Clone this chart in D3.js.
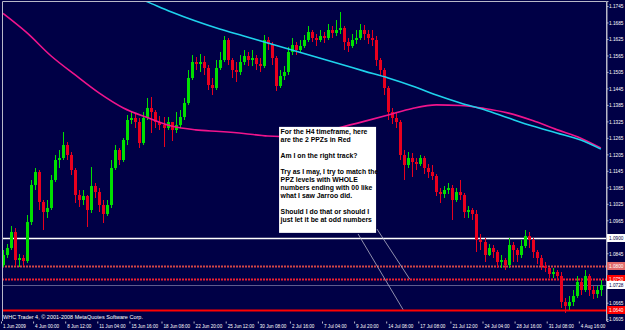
<!DOCTYPE html>
<html>
<head>
<meta charset="utf-8">
<script src="https://cdn.jsdelivr.net/npm/d3@7"></script>
<style>
  body { margin: 0; background: #000046; overflow: hidden; }
  svg { display: block; }
  text { font-family: "Liberation Sans", Arial, sans-serif; }
</style>
</head>
<body>
<div id="chart"></div>
<script>
// H4 bars, 1 Jun 2009 .. 5 Aug 2009
const firstOpen = 1.0802;
const closes = [
  1.0839,1.0864,1.0922,1.0821,1.0828,1.0817,1.0959,1.1094,1.1141,1.1032,
  1.0995,1.1010,1.1112,1.1185,1.1192,1.1239,1.1203,1.1148,1.1057,1.1039,
  1.1054,1.1003,1.1090,1.1068,1.1021,1.0988,1.1021,1.1155,1.1221,1.1185,
  1.1257,1.1330,1.1337,1.1323,1.1246,1.1337,1.1374,1.1359,1.1323,1.1312,
  1.1301,1.1323,1.1294,1.1312,1.1341,1.1392,1.1483,1.1541,1.1534,1.1541,
  1.1519,1.1458,1.1447,1.1519,1.1549,1.1621,1.1549,1.1512,1.1505,1.1541,
  1.1563,1.1549,1.1556,1.1534,1.1527,1.1621,1.1607,1.1556,1.1454,1.1490,
  1.1505,1.1578,1.1603,1.1585,1.1600,1.1621,1.1651,1.1629,1.1621,1.1636,
  1.1629,1.1658,1.1647,1.1658,1.1665,1.1614,1.1600,1.1621,1.1629,1.1658,
  1.1643,1.1629,1.1621,1.1549,1.1512,1.1447,1.1359,1.1337,1.1323,1.1203,
  1.1166,1.1192,1.1177,1.1170,1.1192,1.1155,1.1141,1.1126,1.1068,1.1061,
  1.1075,1.1083,1.1039,1.1068,1.1057,1.0995,1.1003,1.0988,1.0893,1.0886,
  1.0839,1.0864,1.0850,1.0813,1.0821,1.0802,1.0875,1.0857,1.0839,1.0872,
  1.0908,1.0893,1.0850,1.0828,1.0799,1.0791,1.0770,1.0777,1.0762,1.0668,
  1.0653,1.0668,1.0690,1.0741,1.0711,1.0762,1.0711,1.0697,1.0711,1.0728
];
const highs = [
  1.0857,1.0879,1.0944,1.0937,1.0842,1.0839,1.0984,1.1112,1.1155,1.1148,
  1.1039,1.1039,1.1130,1.1203,1.1221,1.1287,1.1250,1.1214,1.1155,1.1075,
  1.1075,1.1057,1.1159,1.1101,1.1083,1.1039,1.1039,1.1185,1.1239,1.1228,
  1.1265,1.1348,1.1359,1.1356,1.1337,1.1359,1.1410,1.1414,1.1367,1.1345,
  1.1341,1.1341,1.1323,1.1359,1.1367,1.1410,1.1512,1.1567,1.1560,1.1570,
  1.1563,1.1530,1.1483,1.1549,1.1578,1.1636,1.1629,1.1556,1.1541,1.1567,
  1.1585,1.1578,1.1585,1.1567,1.1556,1.1640,1.1632,1.1614,1.1563,1.1512,
  1.1527,1.1596,1.1629,1.1614,1.1621,1.1640,1.1672,1.1658,1.1643,1.1658,
  1.1651,1.1680,1.1672,1.1694,1.1723,1.1672,1.1629,1.1643,1.1658,1.1680,
  1.1676,1.1658,1.1658,1.1636,1.1556,1.1519,1.1454,1.1374,1.1359,1.1330,
  1.1221,1.1214,1.1210,1.1192,1.1203,1.1199,1.1170,1.1166,1.1134,1.1083,
  1.1090,1.1101,1.1094,1.1083,1.1112,1.1064,1.1017,1.1010,1.1003,1.0915,
  1.0901,1.0879,1.0875,1.0857,1.0839,1.0828,1.0901,1.0886,1.0864,1.0893,
  1.0930,1.0922,1.0901,1.0857,1.0839,1.0813,1.0795,1.0791,1.0784,1.0777,
  1.0682,1.0690,1.0711,1.0762,1.0755,1.0784,1.0770,1.0726,1.0726,1.0748
];
const lows = [
  1.0795,1.0828,1.0857,1.0799,1.0795,1.0799,1.0810,1.0948,1.1075,1.1003,
  1.0930,1.0974,1.1003,1.1105,1.1155,1.1185,1.1185,1.1130,1.1028,1.1014,
  1.1021,1.0941,1.0992,1.1046,1.0995,1.0955,1.0981,1.1010,1.1148,1.1166,
  1.1177,1.1239,1.1316,1.1301,1.1228,1.1239,1.1330,1.1283,1.1301,1.1294,
  1.1232,1.1294,1.1254,1.1283,1.1301,1.1330,1.1385,1.1476,1.1512,1.1505,
  1.1494,1.1439,1.1421,1.1439,1.1512,1.1541,1.1530,1.1483,1.1469,1.1494,
  1.1530,1.1527,1.1527,1.1512,1.1505,1.1519,1.1585,1.1530,1.1436,1.1447,
  1.1476,1.1494,1.1567,1.1567,1.1578,1.1592,1.1614,1.1614,1.1600,1.1614,
  1.1610,1.1621,1.1629,1.1636,1.1643,1.1585,1.1578,1.1592,1.1607,1.1621,
  1.1621,1.1607,1.1600,1.1527,1.1490,1.1421,1.1330,1.1316,1.1301,1.1185,
  1.1112,1.1155,1.1123,1.1148,1.1163,1.1134,1.1119,1.1112,1.1054,1.1028,
  1.1046,1.1061,1.0966,1.1032,1.1039,1.0974,1.0974,1.0966,1.0850,1.0857,
  1.0813,1.0835,1.0828,1.0791,1.0791,1.0784,1.0791,1.0813,1.0813,1.0828,
  1.0864,1.0864,1.0828,1.0806,1.0784,1.0777,1.0755,1.0755,1.0748,1.0646,
  1.0628,1.0639,1.0653,1.0682,1.0693,1.0704,1.0690,1.0679,1.0682,1.0690
];

// moving averages, sampled at bar index
const slowIdx = [0,6,12,18,24,30,36,42,48,54,60,66,72,78,84,90,96,102,108,114,120,126,132,138,144,149];
const slowMA = [1.1718,1.1647,1.1563,1.1494,1.1428,1.1374,1.1339,1.1308,1.1294,1.1288,1.1281,1.1272,1.1270,
                1.1283,1.1303,1.1325,1.1348,1.1372,1.1385,1.1383,1.1372,1.1355,1.1328,1.1295,1.1264,1.1228];
const fastIdx = [30,36,42,48,54,60,66,72,78,84,90,96,102,108,114,120,126,132,138,144,149];
const fastMA = [1.1796,1.1760,1.1723,1.1690,1.1661,1.1636,1.1610,1.1585,1.1559,1.1534,1.1508,
                1.1483,1.1454,1.1421,1.1392,1.1367,1.1337,1.1308,1.1283,1.1257,1.1224];

const xLabels = ['1 Jun 2009','4 Jun 00:00','8 Jun 12:00','11 Jun 04:00','15 Jun 16:00','18 Jun 08:00',
  '22 Jun 20:00','25 Jun 12:00','30 Jun 08:00','2 Jul 16:00','7 Jul 04:00','9 Jul 20:00','14 Jul 08:00',
  '17 Jul 08:00','21 Jul 12:00','24 Jul 04:00','28 Jul 16:00','31 Jul 08:00','4 Aug 16:00'];
const yTicks = [1.1745,1.1685,1.1625,1.1565,1.1505,1.1445,1.1385,1.1325,1.1265,1.1205,
  1.1145,1.1085,1.1025,1.0965,1.0905,1.0845,1.0785,1.0725,1.0665,1.0605];

// horizontal levels drawn on the chart
const levelPrices = [1.0900, 1.0800, 1.0750, 1.0728, 1.0640];
const levelNames = ['white', 'ppzHatch', 'ppz', 'bid', 'ppzLow'];

const noteLines = ['For the H4 timeframe, here', 'are the 2 PPZs in Red', '', 'Am I on the right track?', '',
  'Try as I may, I try to match the', 'PPZ levels with WHOLE', 'numbers ending with 00 like',
  'what I saw Jarroo did.', '', 'Should I do that or should I', 'just let it be at odd numbers'];
// annotation connectors: [bar index, price] -> [bar index, price]
const noteFrom = [[88.5, 1.0915], [93.2, 1.0933]];
const noteTo = [[99.7, 1.0640], [101.4, 1.0750]];

const W = 625, H = 330;
const pLeft = 2, pRight = 606, pTop = 1, pBottom = 321;
const bg = '#000046';

const xScale = d3.scaleLinear().domain([-0.5, 150.5]).range([1, 1 + 151 * 4.0125]);
const yScale = d3.scaleLinear().domain([1.05984, 1.17632]).range([pBottom, pTop]);

const svg = d3.select('#chart').append('svg')
  .attr('width', W).attr('height', H);

svg.append('rect').attr('width', W).attr('height', H).attr('fill', bg);

svg.append('defs').append('clipPath').attr('id', 'plot')
  .append('rect').attr('x', pLeft).attr('y', pTop).attr('width', pRight - pLeft).attr('height', pBottom - pTop);

const plot = svg.append('g').attr('clip-path', 'url(#plot)');

// horizontal levels (under the candles)
const levelStyle = {
  white:    { stroke: '#ffffff', w: 1.5, dash: null },
  ppzHatch: { stroke: '#d24646', w: 2, dash: '2,1' },
  ppz:      { stroke: '#f02030', w: 2, dash: '2,1' },
  bid:      { stroke: '#5c5c8e', w: 1, dash: null },
  ppzLow:   { stroke: '#ff0000', w: 2, dash: null }
};
plot.append('g').selectAll('line')
  .data(levelPrices)
  .join('line')
  .attr('x1', pLeft).attr('x2', pRight)
  .attr('y1', d => Math.round(yScale(d)) + 0.5).attr('y2', d => Math.round(yScale(d)) + 0.5)
  .attr('stroke', (d, i) => levelStyle[levelNames[i]].stroke)
  .attr('stroke-width', (d, i) => levelStyle[levelNames[i]].w)
  .attr('stroke-dasharray', (d, i) => levelStyle[levelNames[i]].dash);

// candles
const bars = closes.map((c, i) => {
  const o = i ? closes[i - 1] : firstOpen;
  return { i, o, c, h: Math.max(highs[i], o, c), l: Math.min(lows[i], o, c) };
});
const up = '#00e000', down = '#e8001e';
const candles = plot.append('g').attr('shape-rendering', 'crispEdges')
  .selectAll('g').data(bars).join('g');
candles.append('line')
  .attr('x1', d => Math.round(xScale(d.i)) + 0.5).attr('x2', d => Math.round(xScale(d.i)) + 0.5)
  .attr('y1', d => yScale(d.h)).attr('y2', d => yScale(d.l))
  .attr('stroke', d => d.c >= d.o ? up : down);
candles.append('rect')
  .attr('x', d => Math.round(xScale(d.i)) - 1)
  .attr('width', 3)
  .attr('y', d => yScale(Math.max(d.o, d.c)))
  .attr('height', d => Math.max(1, yScale(Math.min(d.o, d.c)) - yScale(Math.max(d.o, d.c))))
  .attr('fill', d => d.c >= d.o ? up : down);

// moving averages
const maLine = d3.line().x(d => xScale(d[0])).y(d => yScale(d[1])).curve(d3.curveMonotoneX);
plot.append('path')
  .attr('d', maLine(slowIdx.map((k, i) => [k, slowMA[i]])))
  .attr('fill', 'none').attr('stroke', '#f0148c').attr('stroke-width', 1.6);
plot.append('path')
  .attr('d', maLine(fastIdx.map((k, i) => [k, fastMA[i]])))
  .attr('fill', 'none').attr('stroke', '#1ed2ec').attr('stroke-width', 1.6);

// annotation connectors
plot.append('g').selectAll('line')
  .data(noteFrom)
  .join('line')
  .attr('x1', d => xScale(d[0])).attr('y1', d => yScale(d[1]))
  .attr('x2', (d, i) => xScale(noteTo[i][0])).attr('y2', (d, i) => yScale(noteTo[i][1]))
  .attr('stroke', '#b4b4c8').attr('stroke-width', 0.8);

// note box
const boxX = xScale(68.8), boxY = yScale(1.1305);
const note = svg.append('g').attr('transform', `translate(${boxX},${boxY})`);
note.append('rect').attr('width', 97).attr('height', 106).attr('fill', '#ffffff');
note.append('g').attr('transform', 'translate(1.5,0) scale(0.98,1)')
  .selectAll('text').data(noteLines).join('text')
  .attr('x', 0).attr('y', (d, i) => 7.5 + i * 8)
  .attr('font-size', 7).attr('font-weight', 'bold').attr('fill', '#000')
  .text(d => d);

// frame
svg.append('path')
  .attr('d', `M${pLeft + 0.5},${pBottom}V${pTop + 0.5}H${pRight + 0.5}V${pBottom}`)
  .attr('fill', 'none').attr('stroke', '#b8b8c8').attr('stroke-width', 1);

// price axis (ticks hidden behind a level label are left out, as in the terminal)
const levelY = levelPrices.map(p => yScale(p));
const shownTicks = yTicks.filter(t => levelY.every(ly => Math.abs(yScale(t) - ly) > 6));
const yAxis = svg.append('g')
  .attr('transform', `translate(${pRight + 0.5},0)`)
  .call(d3.axisRight(yScale).tickValues(shownTicks).tickFormat(d3.format('.4f')).tickSize(2).tickPadding(2));
yAxis.select('.domain').attr('stroke', '#b8b8c8');
yAxis.selectAll('.tick line').attr('stroke', '#b8b8c8');
yAxis.selectAll('.tick text')
  .attr('fill', '#ffffff').attr('font-size', 5.5)
  .attr('transform', 'scale(0.86,1)').attr('x', 2.5 / 0.86);

// level labels on the price axis
const labelStyle = {
  white:    { fill: '#ffffff', text: '#000046' },
  ppzHatch: { fill: '#e06a6a', text: '#ffffff' },
  ppz:      { fill: '#ff0000', text: '#ffffff' },
  bid:      { fill: '#ffffff', text: '#000046' },
  ppzLow:   { fill: '#ff0000', text: '#ffffff' }
};
const lab = svg.append('g').selectAll('g').data(levelPrices).join('g')
  .attr('transform', d => `translate(${pRight + 1},${Math.round(yScale(d))})`);
lab.append('rect').attr('x', 0).attr('y', -4).attr('width', W - pRight).attr('height', 8)
  .attr('fill', (d, i) => labelStyle[levelNames[i]].fill);
lab.append('text')
  .attr('transform', 'scale(0.86,1)').attr('x', 2 / 0.86).attr('y', 2)
  .attr('font-size', 5.5).attr('fill', (d, i) => labelStyle[levelNames[i]].text)
  .text(d => d3.format('.4f')(d));

// time axis
const tickIdx = xLabels.map((d, k) => -0.5 + 8 * k);
const xAxis = svg.append('g')
  .attr('transform', `translate(0,${pBottom + 0.5})`)
  .call(d3.axisBottom(xScale).tickValues(tickIdx).tickFormat((d, k) => xLabels[k]).tickSize(2).tickPadding(1));
xAxis.select('.domain').remove();
xAxis.selectAll('.tick line').attr('stroke', '#b8b8c8');
xAxis.selectAll('.tick text')
  .attr('fill', '#ffffff').attr('font-size', 5.5).attr('text-anchor', 'start')
  .attr('transform', 'scale(0.84,1)').attr('x', 1.5 / 0.84).attr('dy', '0.55em');

// terminal caption
svg.append('text')
  .attr('transform', `translate(3,${pBottom - 2}) scale(0.92,1)`)
  .attr('font-size', 6).attr('fill', '#ffffff')
  .text('WHC Trader 4, © 2001-2008 MetaQuotes Software Corp.');
</script>
</body>
</html>
